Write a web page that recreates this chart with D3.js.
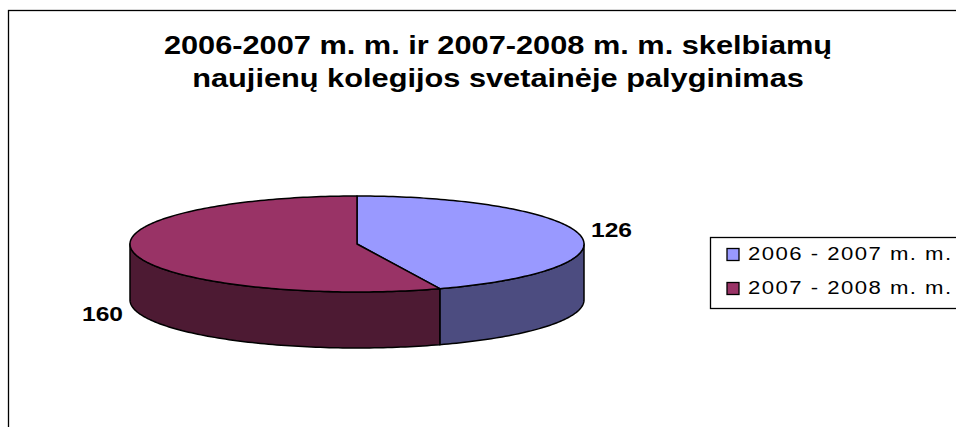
<!DOCTYPE html>
<html>
<head>
<meta charset="utf-8">
<script src="https://cdn.jsdelivr.net/npm/d3@7"></script>
<style>
  body { margin: 0; background: #fff; }
  text { font-family: "Liberation Sans", Arial, sans-serif; }
</style>
</head>
<body>
<svg id="chart" width="956" height="427"></svg>
<script>
// data
var categories = ["2006 - 2007 m. m.", "2007 - 2008 m. m."];
var values = [126, 160];
var topColors = ["#9999FF", "#993366"];
var sideColors = ["#4C4C80", "#4D1A33"];
var titleLines = ["2006-2007 m. m. ir 2007-2008 m. m. skelbiamų",
                  "naujienų kolegijos svetainėje palyginimas"];

// the original picture is stretched sideways a bit
var stretch = 1.23;

var svg = d3.select("#chart");

// outer chart frame (only left/top are inside the picture)
svg.append("rect")
  .attr("x", 8.5).attr("y", 10.5)
  .attr("width", 1000).attr("height", 1000)
  .attr("fill", "none").attr("stroke", "#000").attr("stroke-width", 1.3);

// title
svg.append("g").selectAll("text")
  .data(titleLines)
  .enter().append("text")
    .attr("transform", function(d, i) {
      return "translate(498," + (54 + i * 33) + ") scale(" + stretch + ",1)";
    })
    .attr("text-anchor", "middle")
    .attr("font-size", 25)
    .attr("font-weight", "bold")
    .text(function(d) { return d; });

// 3d pie geometry
var cx = 357, cy = 244, rx = 227, ry = 48, depth = 56;

function pt(a, dy) {
  return [cx + rx * Math.sin(a), cy - ry * Math.cos(a) + (dy || 0)];
}

function arcPoints(a0, a1, dy) {
  var n = Math.max(2, Math.ceil(Math.abs(a1 - a0) / 0.02));
  return d3.range(n + 1).map(function(i) {
    return pt(a0 + (a1 - a0) * i / n, dy);
  });
}

var pie = d3.pie().sort(null).startAngle(0).endAngle(2 * Math.PI);
var arcs = pie(values);
var line = d3.line();

var gPie = svg.append("g");

// side walls (front half only: pi/2 .. 3pi/2)
arcs.forEach(function(d, i) {
  var s = Math.max(d.startAngle, Math.PI / 2),
      e = Math.min(d.endAngle, 3 * Math.PI / 2);
  if (e <= s) return;
  var pts = arcPoints(s, e, 0).concat(arcPoints(e, s, depth));
  gPie.append("path")
    .attr("d", line(pts) + "Z")
    .attr("fill", sideColors[i])
    .attr("stroke", "#000")
    .attr("stroke-width", 1.5)
    .attr("stroke-linejoin", "round");
});

// top faces
arcs.forEach(function(d, i) {
  var pts = [[cx, cy]].concat(arcPoints(d.startAngle, d.endAngle, 0));
  gPie.append("path")
    .attr("d", line(pts) + "Z")
    .attr("fill", topColors[i])
    .attr("stroke", "#000")
    .attr("stroke-width", 1.5)
    .attr("stroke-linejoin", "round");
});

// value labels
arcs.forEach(function(d) {
  var mid = (d.startAngle + d.endAngle) / 2;
  var x = cx + (rx + 32) * Math.sin(mid);
  var y = cy - (ry + 28) * Math.cos(mid) + (Math.cos(mid) < 0 ? depth : 0);
  svg.append("text")
    .attr("transform", "translate(" + x + "," + y + ") scale(" + stretch + ",1)")
    .attr("text-anchor", "middle")
    .attr("dominant-baseline", "central")
    .attr("font-size", 20)
    .attr("font-weight", "bold")
    .text(d.data);
});

// legend
var legend = svg.append("g");
legend.append("rect")
  .attr("x", 710.5).attr("y", 237.5)
  .attr("width", 400).attr("height", 71)
  .attr("fill", "#fff").attr("stroke", "#000").attr("stroke-width", 1.3);

var items = legend.selectAll("g.item")
  .data(categories)
  .enter().append("g")
    .attr("class", "item")
    .attr("transform", function(d, i) { return "translate(0," + (i * 34) + ")"; });

items.append("rect")
  .attr("x", 727).attr("y", 248.5)
  .attr("width", 12).attr("height", 12)
  .attr("fill", function(d, i) { return topColors[i]; })
  .attr("stroke", "#000").attr("stroke-width", 1.3);

items.append("text")
  .attr("transform", "translate(748,260) scale(" + stretch + ",1)")
  .attr("font-size", 18)
  .attr("letter-spacing", 1.2)
  .text(function(d) { return d; });
</script>
</body>
</html>
